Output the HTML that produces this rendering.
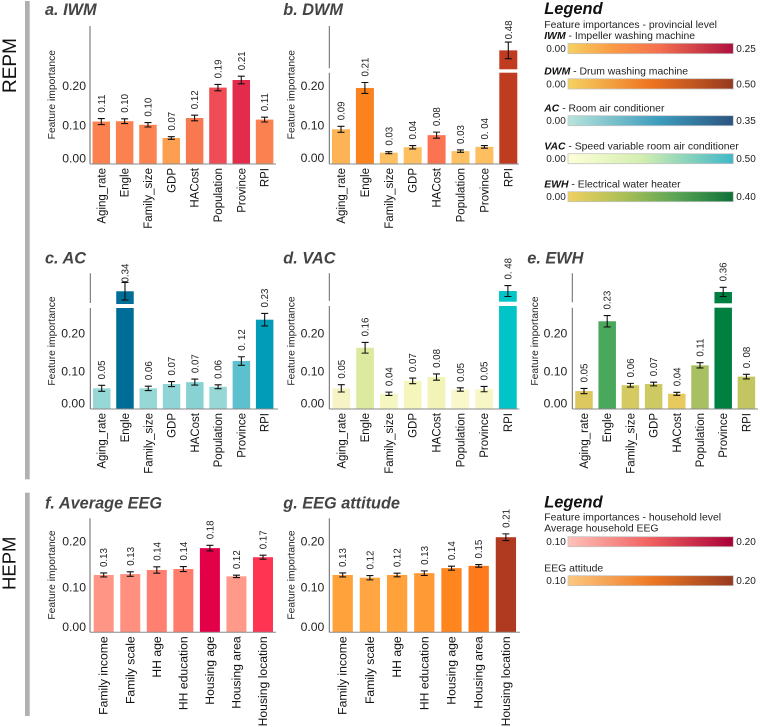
<!DOCTYPE html>
<html lang="en">
<head>
<meta charset="utf-8">
<title>Feature importance charts</title>
<style>
html,body{margin:0;padding:0;background:#fff;}
body{width:760px;height:727px;overflow:hidden;}
svg{display:block;font-family:"Liberation Sans",Arial,sans-serif;}
.title{font-size:16.3px;font-weight:bold;font-style:italic;fill:#444;}
.leg-head{font-size:16.4px;font-weight:bold;font-style:italic;fill:#111;}
.leg-text{font-size:10.4px;fill:#222;}
.leg-text tspan{font-weight:bold;font-style:italic;fill:#111;}
.leg-num{font-size:10px;fill:#222;}
.leg-bar{stroke:#c4c4c4;stroke-width:.8;}
.side{font-size:19px;fill:#111;}
</style>
</head>
<body>
<svg id="figure" xmlns="http://www.w3.org/2000/svg" width="760" height="727" viewBox="0 0 760 727">
<defs>
<linearGradient id="g-iwm"><stop offset="0" stop-color="#F6D162"/><stop offset=".27" stop-color="#FB9A45"/><stop offset=".55" stop-color="#F4714F"/><stop offset="1" stop-color="#AE1040"/></linearGradient>
<linearGradient id="g-dwm"><stop offset="0" stop-color="#F6D162"/><stop offset=".5" stop-color="#EE7420"/><stop offset="1" stop-color="#96391F"/></linearGradient>
<linearGradient id="g-ac"><stop offset="0" stop-color="#B7E4DB"/><stop offset=".55" stop-color="#3D9CBD"/><stop offset="1" stop-color="#2B5480"/></linearGradient>
<linearGradient id="g-vac"><stop offset="0" stop-color="#FFFFD8"/><stop offset=".45" stop-color="#D2EEB0"/><stop offset="1" stop-color="#3FB8C8"/></linearGradient>
<linearGradient id="g-ewh"><stop offset="0" stop-color="#F0D060"/><stop offset=".35" stop-color="#A8BE55"/><stop offset=".65" stop-color="#5BA555"/><stop offset="1" stop-color="#0E7038"/></linearGradient>
<linearGradient id="g-eeg"><stop offset="0" stop-color="#FFC2BA"/><stop offset=".5" stop-color="#F0605F"/><stop offset="1" stop-color="#A80038"/></linearGradient>
<linearGradient id="g-att"><stop offset="0" stop-color="#FDC880"/><stop offset=".5" stop-color="#EE7A25"/><stop offset="1" stop-color="#96391F"/></linearGradient>
</defs>

<rect x="25" y="1" width="4.7" height="478.3" fill="#b0b0b0"/>
<rect x="25" y="492.7" width="4.7" height="223.3" fill="#b0b0b0"/>
<text class="side" transform="translate(16 93) rotate(-90)">REPM</text>
<text class="side" transform="translate(15.3 590) rotate(-90)" style="font-size:18.5px">HEPM</text>

<g>
<text class="leg-head" x="544.3" y="14">Legend</text>
<text class="leg-text" x="544.3" y="28">Feature importances - provincial level</text>

<text class="leg-text" x="544.3" y="39"><tspan>IWM</tspan> - Impeller washing machine</text>
<text class="leg-num" x="546.3" y="52">0.00</text>
<rect class="leg-bar" x="568" y="43.3" width="165.3" height="10.4" fill="url(#g-iwm)"/>
<text class="leg-num" x="736.3" y="52">0.25</text>

<text class="leg-text" x="544.3" y="74.7"><tspan>DWM</tspan> - Drum washing machine</text>
<text class="leg-num" x="546.3" y="87.3">0.00</text>
<rect class="leg-bar" x="568" y="78.7" width="165.3" height="10.3" fill="url(#g-dwm)"/>
<text class="leg-num" x="736.3" y="87.3">0.50</text>

<text class="leg-text" x="544.3" y="111.7"><tspan>AC</tspan> - Room air conditioner</text>
<text class="leg-num" x="546.3" y="124">0.00</text>
<rect class="leg-bar" x="568" y="115.7" width="165.3" height="10" fill="url(#g-ac)"/>
<text class="leg-num" x="736.3" y="124">0.35</text>

<text class="leg-text" x="544.3" y="149.7"><tspan>VAC</tspan> - Speed variable room air conditioner</text>
<text class="leg-num" x="546.3" y="162">0.00</text>
<rect class="leg-bar" x="568" y="153.7" width="165.3" height="10" fill="url(#g-vac)"/>
<text class="leg-num" x="736.3" y="162">0.50</text>

<text class="leg-text" x="544.3" y="187.7"><tspan>EWH</tspan> - Electrical water heater</text>
<text class="leg-num" x="546.3" y="200">0.00</text>
<rect class="leg-bar" x="568" y="191.7" width="165.3" height="10" fill="url(#g-ewh)"/>
<text class="leg-num" x="736.3" y="200">0.40</text>
</g>

<g>
<text class="leg-head" x="544.3" y="507.3">Legend</text>
<text class="leg-text" x="544.3" y="520.7">Feature importances - household level</text>
<text class="leg-text" x="544.3" y="531.7">Average household EEG</text>
<text class="leg-num" x="546.3" y="545">0.10</text>
<rect class="leg-bar" x="568" y="536.7" width="165.3" height="10" fill="url(#g-eeg)"/>
<text class="leg-num" x="736.3" y="545">0.20</text>
<text class="leg-text" x="544.3" y="571.7">EEG attitude</text>
<text class="leg-num" x="546.3" y="584">0.10</text>
<rect class="leg-bar" x="568" y="575.7" width="165.3" height="10" fill="url(#g-att)"/>
<text class="leg-num" x="736.3" y="584">0.20</text>
</g>
</svg>

<script>
var provincialCategories = ["Aging_rate","Engle","Family_size","GDP","HACost","Population","Province","RPI"];
var householdCategories = ["Family income","Family scale","HH age","HH education","Housing age","Housing area","Housing location"];
var yTickLabels = ["0.00","0.10","0.20"];
var yTickValues = [0, 0.1, 0.2];

var iwmValues = [0.106,0.107,0.098,0.065,0.115,0.191,0.21,0.111];
var iwmErrors = [0.0075,0.006,0.0055,0.0033,0.007,0.008,0.0095,0.006];
var iwmPrinted = ["0.11","0.10","0.10","0.07","0.12","0.19","0.21","0.11"];
var iwmColors = ["#FB8150","#FB8150","#FB8351","#FD9F50","#F8794F","#EF4C55","#E32C4C","#FB8150"];

var dwmValues = [0.089,0.195,0.029,0.043,0.074,0.033,0.044,0.48];
var dwmErrors = [0.0077,0.014,0.0026,0.0043,0.0077,0.003,0.0034,0.108];
var dwmPrinted = ["0.09","0.21","0.03","0.04","0.08","0.03","0. 04","0.48"];
var dwmColors = ["#FDB456","#FA8320","#FDC063","#FDBF60","#FB7350","#FDC063","#FDBF60","#C03C20"];

var acValues = [0.053,0.34,0.053,0.064,0.069,0.057,0.123,0.229];
var acErrors = [0.0077,0.056,0.0056,0.0064,0.0077,0.005,0.011,0.016];
var acPrinted = ["0.05","0.34","0.06","0.07","0.07","0.06","0. 12","0.23"];
var acColors = ["#95D8D5","#006C98","#95D8D5","#90D5D5","#88D2D4","#95D8D5","#5CC0CF","#009CB8"];

var vacValues = [0.053,0.157,0.039,0.072,0.082,0.05,0.051,0.48];
var vacErrors = [0.0094,0.0137,0.0043,0.0072,0.008,0.0043,0.0068,0.111];
var vacPrinted = ["0.05","0.16","0.04","0.07","0.08","0.05","0.05","0. 48"];
var vacColors = ["#F6F4C4","#DCEA9F","#F6F6C0","#F4F6BC","#F1F4B6","#F9F8CA","#F7F7C5","#00C4C6"];

var ewhValues = [0.046,0.225,0.061,0.064,0.039,0.112,0.36,0.083];
var ewhErrors = [0.0068,0.0146,0.0047,0.0047,0.0038,0.0068,0.041,0.006];
var ewhPrinted = ["0.05","0.23","0.06","0.07","0.04","0.11","0.36","0. 08"];
var ewhColors = ["#DDC860","#4AA85C","#D5CA62","#CDC963","#E6CA5E","#A9C062","#008040","#C3C660"];

var eegValues = [0.126,0.128,0.137,0.139,0.185,0.123,0.165];
var eegErrors = [0.0044,0.005,0.007,0.0055,0.0062,0.0026,0.0044];
var eegPrinted = ["0.13","0.13","0.14","0.14","0.18","0.12","0.17"];
var eegColors = ["#FF9585","#FF9080","#FF8070","#FF7B6B","#E30049","#FF9A8A","#FF3352"];

var attitudeValues = [0.126,0.12,0.126,0.13,0.141,0.146,0.209];
var attitudeErrors = [0.0044,0.0048,0.004,0.005,0.0044,0.0029,0.0073];
var attitudePrinted = ["0.13","0.12","0.12","0.13","0.14","0.15","0.21"];
var attitudeColors = ["#FFA23C","#FFA643","#FFA23C","#FF9A35","#FF851F","#FF7A1A","#B03A20"];

var NS = "http://www.w3.org/2000/svg";
var figure = document.getElementById("figure");

function make(parent, tag, attrs, text) {
  var el = document.createElementNS(NS, tag);
  for (var k in attrs) { el.setAttribute(k, attrs[k]); }
  if (text !== undefined) { el.textContent = text; }
  parent.appendChild(el);
  return el;
}

function drawPanel(p) {
  var group = make(figure, "g", {});
  
  

  var breakValue = p.breakLow ? (p.base - p.breakLow) / p.scale : Infinity;
  function yOf(v) {
    if (v <= breakValue) { return p.base - v * p.scale; }
    return p.breakHigh - (v - breakValue) * p.upperScale;
  }
  function xOf(i) { return p.firstX + i * p.step; }

  var title = make(group, "text", {"class":"title", x:p.titleX, y:p.titleY}, p.title);
  
  

  var yTitle = make(group, "text", {
    transform:"translate(" + (p.yTitleX + 3.5) + " " + p.yTitleY + ") rotate(-90)",
    "text-anchor":"middle", "font-size":"10.3", fill:"#222"
  }, "Feature importance");
  
  

  yTickLabels.forEach(function (label, i) {
    var tick = make(group, "text", {
      x:p.tickRight, y:p.tickBaselines[i], "text-anchor":"end", "font-size":"12.2", fill:"#222"
    }, label);
    
    
    tick.setAttribute('data-value', yTickValues[i]);
  });

  p.values.forEach(function (v, i) {
    var cx = xOf(i), left = cx - p.barWidth / 2;
    var top = yOf(v);
    if (v > breakValue) {
      var upper = make(group, "rect", {x:left, y:top, width:p.barWidth, height:p.breakHigh - top, fill:p.colors[i]});
      
      
      var lower = make(group, "rect", {x:left, y:p.breakLow, width:p.barWidth, height:p.base - p.breakLow, fill:p.colors[i]});
      
      
    } else {
      var bar = make(group, "rect", {x:left, y:top, width:p.barWidth, height:p.base - top, fill:p.colors[i]});
      
      
    }

    var errTop = yOf(v + p.errors[i]), errBottom = yOf(v - p.errors[i]);
    var err = make(group, "path", {
      d:"M" + (cx - 3.5) + " " + errTop + "H" + (cx + 3.5) + "M" + cx + " " + errTop + "V" + errBottom + "M" + (cx - 3.5) + " " + errBottom + "H" + (cx + 3.5),
      fill:"none", stroke:"#111", "stroke-width":"1.1"
    });
    
    

    var gap = (p.labelGapIndex === i) ? p.labelGapSpecial : 6;
    var printed = make(group, "text", {
      transform:"translate(" + (cx + 3.5) + " " + (errTop - gap) + ") rotate(-90)",
      "font-size":"9.7", fill:"#222"
    }, p.printed[i]);
    
    

    var cat = make(group, "text", {
      transform:"translate(" + (cx + 4) + " " + (p.base + 4) + ") rotate(-90)",
      "text-anchor":"end", "font-size":p.catFont, fill:"#111"
    }, p.categories[i]);
    
    
  });

  var axisPath = p.breakLow
    ? "M" + p.axisX + " " + p.axisTop + "V" + (p.breakHigh - 1) + "M" + p.axisX + " " + p.breakLow + "V" + p.base
    : "M" + p.axisX + " " + p.axisTop + "V" + p.base;
  var yAxis = make(group, "path", {d:axisPath, fill:"none", stroke:"#666", "stroke-width":"1"});
  
  

  var xAxis = make(group, "line", {x1:p.axisX, x2:p.axisEnd, y1:p.base, y2:p.base, stroke:"#8a8a8a", "stroke-width":"1"});
  
  
}

drawPanel({id:"iwm", title:"a. IWM", titleX:45, titleY:15, axisX:90, axisTop:26, axisEnd:276, base:164, scale:400,
  firstX:101.3, step:23.33, barWidth:17.5, catFont:"11.5", tickRight:86, tickBaselines:[162.3,129.3,90], yTitleX:51.7, yTitleY:94.7,
  categories:provincialCategories, values:iwmValues, errors:iwmErrors, printed:iwmPrinted, colors:iwmColors});

drawPanel({id:"dwm", title:"b. DWM", titleX:283.3, titleY:15, axisX:329.3, axisTop:26, axisEnd:519, base:164, scale:390,
  breakLow:72.7, breakHigh:69.3, upperScale:77, labelGapIndex:7, labelGapSpecial:2.7,
  firstX:341, step:23.9, barWidth:18, catFont:"11.5", tickRight:324.3, tickBaselines:[162,129.3,90], yTitleX:291, yTitleY:94.7,
  categories:provincialCategories, values:dwmValues, errors:dwmErrors, printed:dwmPrinted, colors:dwmColors});

drawPanel({id:"ac", title:"c. AC", titleX:45, titleY:263.3, axisX:90.3, axisTop:273.3, axisEnd:278, base:409, scale:390,
  breakLow:308, breakHigh:304, upperScale:157, labelGapIndex:1, labelGapSpecial:0,
  firstX:101.7, step:23.28, barWidth:17.5, catFont:"11.5", tickRight:85, tickBaselines:[407.7,375.7,337.3], yTitleX:51.7, yTitleY:341,
  categories:provincialCategories, values:acValues, errors:acErrors, printed:acPrinted, colors:acColors});

drawPanel({id:"vac", title:"d. VAC", titleX:283.3, titleY:263.3, axisX:329.3, axisTop:273.3, axisEnd:519.3, base:409, scale:390,
  breakLow:306, breakHigh:301.7, upperScale:49.5,
  firstX:341.3, step:23.8, barWidth:17.7, catFont:"11.5", tickRight:324.3, tickBaselines:[407.7,375.7,337.3], yTitleX:291, yTitleY:341,
  categories:provincialCategories, values:vacValues, errors:vacErrors, printed:vacPrinted, colors:vacColors});

drawPanel({id:"ewh", title:"e. EWH", titleX:527.3, titleY:263.3, axisX:572.3, axisTop:273.3, axisEnd:758, base:409, scale:390,
  breakLow:307.7, breakHigh:303.3, upperScale:113,
  firstX:584, step:23.2, barWidth:17.5, catFont:"11.5", tickRight:567.3, tickBaselines:[407.7,375.7,337.3], yTitleX:534.3, yTitleY:341,
  categories:provincialCategories, values:ewhValues, errors:ewhErrors, printed:ewhPrinted, colors:ewhColors});

drawPanel({id:"eeg", title:"f. Average EEG", titleX:45, titleY:508.7, axisX:90, axisTop:518.3, axisEnd:276, base:632.3, scale:455,
  firstX:103.7, step:26.55, barWidth:20, catFont:"12.2", tickRight:86, tickBaselines:[631,591.7,545.7], yTitleX:51.7, yTitleY:575,
  categories:householdCategories, values:eegValues, errors:eegErrors, printed:eegPrinted, colors:eegColors});

drawPanel({id:"attitude", title:"g. EEG attitude", titleX:283.3, titleY:508.7, axisX:329.3, axisTop:518.3, axisEnd:520, base:632.3, scale:455,
  firstX:342.7, step:27.2, barWidth:20.3, catFont:"12.2", tickRight:324.3, tickBaselines:[631,591.7,545.7], yTitleX:291, yTitleY:575,
  categories:householdCategories, values:attitudeValues, errors:attitudeErrors, printed:attitudePrinted, colors:attitudeColors});
</script>
</body>
</html>
